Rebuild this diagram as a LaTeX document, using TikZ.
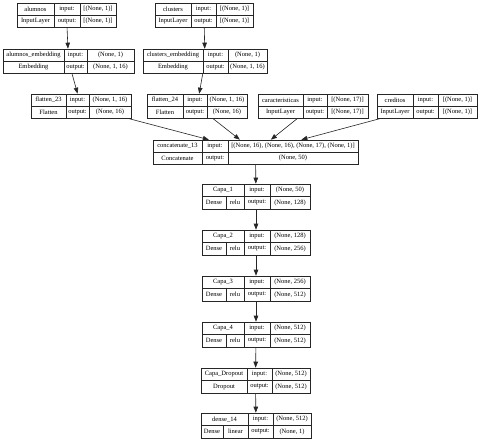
\documentclass[tikz,border=0pt]{standalone}
\usepackage{fontspec}
\setmainfont{Liberation Serif}
\usetikzlibrary{arrows.meta}
\tikzset{
  cellbox/.style={draw=black!85, line width=0.6pt, inner sep=0pt, font=\fontsize{6.5}{7}\selectfont},
  outerbox/.style={draw=black!85, line width=0.6pt, inner sep=0pt},
  conn/.style={line width=0.6pt, draw=black!85, -{Triangle[length=6pt,width=4.5pt]}},
}
\newcommand\cellat[5]{\node[cellbox, minimum width={(#2)-(#1)}, minimum height={(#4)-(#3)}] at ({((#1)+(#2))/2},{((#3)+(#4))/2}) {#5};}
% name, x0, x1, x2, x3, y0, y1, label, type
\newcommand\rec[9]{%
  \pgfmathsetmacro\ym{((#6)+(#7))/2}%
  \node[outerbox, minimum width={(#5)-(#2)}, minimum height={(#7)-(#6)}] (#1) at ({((#2)+(#5))/2},{((#6)+(#7))/2}) {};
  \cellat{#2}{#3}{#6}{\ym}{#8}
  \cellat{#2}{#3}{\ym}{#7}{#9}
  \cellat{#3}{#4}{#6}{\ym}{input:}
  \cellat{#3}{#4}{\ym}{#7}{output:}
  \def\ra{#2}\def\rb{#3}\def\vx{#4}\def\vxx{#5}\def\vy{#6}\def\vyy{#7}%
}
\newcommand\vals[2]{\cellat{\vx}{\vxx}{\vy}{\ym}{#1}\cellat{\vx}{\vxx}{\ym}{\vyy}{#2}}
\newcommand\splitcell[3]{\cellat{\ra}{#1}{\ym}{\vyy}{#2}\cellat{#1}{\rb}{\ym}{\vyy}{#3}}
\begin{document}
\begin{tikzpicture}[x=1pt,y=-1pt]
\fill[white] (0,0) rectangle (480,439);
\useasboundingbox (0,0) rectangle (480,439);

\rec{alu}{17}{54}{80}{116}{3}{27}{alumnos}{InputLayer}
\vals{[(None, 1)]}{[(None, 1)]}
\rec{clu}{155}{191}{216}{253}{3}{27}{clusters}{InputLayer}
\vals{[(None, 1)]}{[(None, 1)]}

\rec{aluemb}{3}{64}{87}{134}{49}{73}{alumnos\_embedding}{Embedding}
\vals{(None, 1)}{(None, 1, 16)}
\rec{cluemb}{143}{203}{228}{267}{49}{73}{clusters\_embedding}{Embedding}
\vals{(None, 1)}{(None, 1, 16)}

\rec{flata}{31}{66}{89}{131}{94}{118}{flatten\_23}{Flatten}
\vals{(None, 1, 16)}{(None, 16)}
\rec{flatb}{147}{183}{207}{247}{94}{118}{flatten\_24}{Flatten}
\vals{(None, 1, 16)}{(None, 16)}
\rec{car}{258}{303}{327}{368}{94}{118}{caracteristicas}{InputLayer}
\vals{[(None, 17)]}{[(None, 17)]}
\rec{cred}{377}{413}{438}{477}{94}{118}{creditos}{InputLayer}
\vals{[(None, 1)]}{[(None, 1)]}

\rec{concat}{153}{202}{228}{358}{140}{164}{concatenate\_13}{Concatenate}
\vals{[(None, 16), (None, 16), (None, 17), (None, 1)]}{(None, 50)}

\rec{ca}{202}{244}{270}{310}{184}{209}{Capa\_1}{}
\splitcell{226}{Dense}{relu}
\vals{(None, 50)}{(None, 128)}
\rec{cb}{202}{244}{270}{310}{230}{255}{Capa\_2}{}
\splitcell{226}{Dense}{relu}
\vals{(None, 128)}{(None, 256)}
\rec{cc}{202}{244}{270}{310}{276}{301}{Capa\_3}{}
\splitcell{226}{Dense}{relu}
\vals{(None, 256)}{(None, 512)}
\rec{cd}{202}{244}{270}{310}{322}{347}{Capa\_4}{}
\splitcell{226}{Dense}{relu}
\vals{(None, 512)}{(None, 512)}
\rec{drop}{201}{247}{272}{310}{368}{393}{Capa\_Dropout}{Dropout}
\vals{(None, 512)}{(None, 512)}
\rec{dfin}{201}{248}{273}{311}{413}{438}{dense\_14}{}
\splitcell{223}{Dense}{linear}
\vals{(None, 512)}{(None, 1)}

\draw[conn] (alu) -- (aluemb);
\draw[conn] (clu) -- (cluemb);
\draw[conn] (aluemb) -- (flata);
\draw[conn] (cluemb) -- (flatb);
\draw[conn] (flata) -- (concat);
\draw[conn] (flatb) -- (concat);
\draw[conn] (car) -- (concat);
\draw[conn] (cred) -- (concat);
\draw[conn] (concat) -- (ca);
\draw[conn] (ca) -- (cb);
\draw[conn] (cb) -- (cc);
\draw[conn] (cc) -- (cd);
\draw[conn] (cd) -- (drop);
\draw[conn] (drop) -- (dfin);
\end{tikzpicture}
\end{document}
